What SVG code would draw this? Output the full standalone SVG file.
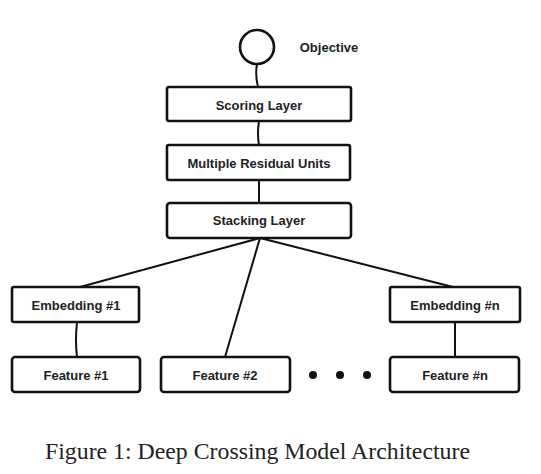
<svg xmlns="http://www.w3.org/2000/svg" width="541" height="474" viewBox="0 0 541 474">
<style>
.box{fill:#fff;stroke:#111;stroke-width:2.6;stroke-linejoin:round}
.lbl{font-family:"Liberation Sans",Arial,sans-serif;font-weight:bold;font-size:13px;fill:#222;text-anchor:middle;dominant-baseline:central}
.conn{stroke:#111;stroke-width:2;fill:none}
.cap{font-family:"Liberation Serif","Times New Roman",serif;font-size:22.5px;fill:#222}
</style>
<rect width="541" height="474" fill="#fff"/>
<g id="connectors">
<path class="conn" d="M257 64 Q255 75 258 87"/>
<path class="conn" d="M259 121 Q257 133 259 145"/>
<path class="conn" d="M259 180 L259 203"/>
<path class="conn" d="M260 238 L80 287"/>
<path class="conn" d="M260 238 L225 357"/>
<path class="conn" d="M260 238 L453 287"/>
<path class="conn" d="M77 322 Q75 340 77 357"/>
<path class="conn" d="M455 322 L455 357"/>
</g>
<g id="objective">
<circle cx="257" cy="47" r="17" fill="#fff" stroke="#111" stroke-width="2.6"/>
<text class="lbl" x="329" y="47" font-size="12">Objective</text>
</g>
<g id="scoring"><rect class="box" x="167" y="87" width="184" height="34" rx="2"/><text class="lbl" x="259" y="105">Scoring Layer</text></g>
<g id="residual"><rect class="box" x="167" y="145" width="183" height="35" rx="2"/><text class="lbl" x="259" y="163">Multiple Residual Units</text></g>
<g id="stacking"><rect class="box" x="167" y="203" width="184" height="35" rx="3"/><text class="lbl" x="259" y="220">Stacking Layer</text></g>
<g id="emb1"><rect class="box" x="12" y="287" width="127" height="35" rx="2"/><text class="lbl" x="76" y="305">Embedding #1</text></g>
<g id="embn"><rect class="box" x="390" y="287" width="130" height="35" rx="2"/><text class="lbl" x="455" y="305">Embedding #n</text></g>
<g id="feat1"><rect class="box" x="12" y="357" width="128" height="35" rx="3"/><text class="lbl" x="76" y="375">Feature #1</text></g>
<g id="feat2"><rect class="box" x="161" y="357" width="129" height="35" rx="3"/><text class="lbl" x="225" y="375">Feature #2</text></g>
<g id="featn"><rect class="box" x="390" y="357" width="129" height="35" rx="3"/><text class="lbl" x="455" y="375">Feature #n</text></g>
<g id="dots" fill="#111"><circle cx="313" cy="375" r="4"/><circle cx="340" cy="375" r="4"/><circle cx="367" cy="375" r="4"/></g>
<text class="cap" x="45" y="459" textLength="425" lengthAdjust="spacingAndGlyphs">Figure 1: Deep Crossing Model Architecture</text>
</svg>
